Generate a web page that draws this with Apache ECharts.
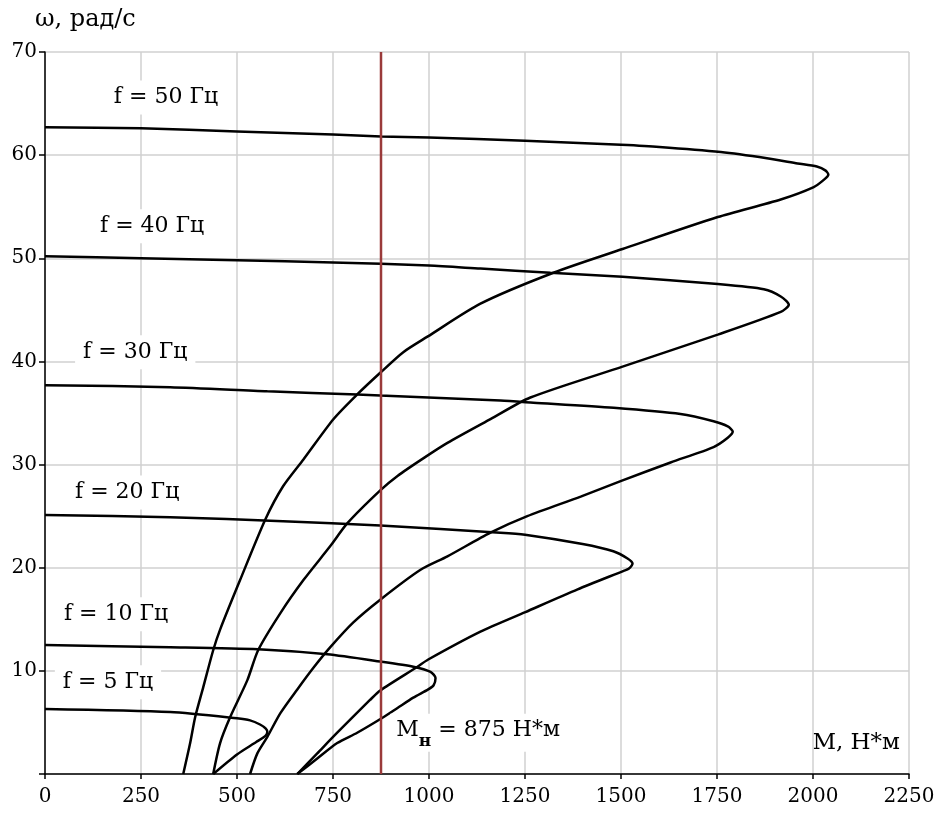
<!DOCTYPE html>
<html>
<head>
<meta charset="utf-8">
<script src="https://cdn.jsdelivr.net/npm/echarts@6/dist/echarts.min.js"></script>
<style>
html,body{margin:0;padding:0;background:#fff;}
#chart{width:949px;height:819px;}
</style>
</head>
<body>
<div id="chart"></div>
<script>
// ---- data: mechanical characteristics  [M (Н*м), ω (рад/с)] ----
const curve50 = [[0,62.7],[250,62.6],[500,62.3],[750,62.0],[875,61.8],[1000,61.7],[1250,61.4],[1500,61.0],[1600,60.8],[1760,60.3],[1880,59.7],[1960,59.2],[2010,58.9],[2033,58.5],[2040,58.1],[2028,57.6],[2002,56.9],[1916,55.7],[1752,54.0],[1504,50.9],[1324,48.6],[1134,45.6],[996,42.4],[933,40.9],[873,38.9],[813,36.8],[751,34.4],[673,30.5],[620,27.9],[574,24.7],[508,18.8],[456,14.0],[438,12.0],[412,8.4],[391,5.5],[378,3.0],[360,0]];
const curve40 = [[0,50.2],[250,50.0],[500,49.8],[750,49.6],[1000,49.3],[1134,49.0],[1316,48.6],[1504,48.2],[1752,47.5],[1872,47.0],[1916,46.3],[1937,45.5],[1916,44.8],[1752,42.6],[1504,39.5],[1264,36.5],[1160,34.4],[1048,32.1],[985,30.6],[918,28.9],[873,27.5],[787,24.3],[743,22.1],[673,18.8],[613,15.6],[555,12.0],[527,9.1],[482,5.5],[456,3.0],[438,0]];
const curve30 = [[0,37.7],[326,37.5],[579,37.1],[813,36.8],[873,36.7],[1186,36.2],[1272,36.0],[1481,35.5],[1655,34.9],[1741,34.2],[1778,33.7],[1791,33.2],[1778,32.6],[1741,31.7],[1629,30.2],[1499,28.4],[1395,26.9],[1256,25.0],[1160,23.4],[1048,21.1],[978,19.8],[873,16.9],[803,14.7],[743,12.3],[699,10.3],[657,8.2],[613,5.9],[579,3.6],[553,2.0],[534,0]];
const curve20 = [[0,25.1],[326,24.9],[620,24.5],[873,24.1],[1186,23.4],[1250,23.2],[1400,22.3],[1480,21.6],[1517,20.9],[1530,20.4],[1520,19.9],[1507,19.7],[1387,17.9],[1251,15.7],[1134,13.8],[998,11.1],[970,10.4],[873,8.1],[847,7.2],[761,4.0],[709,2.0],[657,0]];
const curve10 = [[0,12.5],[326,12.3],[555,12.1],[735,11.6],[873,10.9],[959,10.4],[1004,9.9],[1017,9.3],[1012,8.6],[998,8.2],[959,7.4],[918,6.4],[881,5.5],[813,4.0],[761,3.0],[709,1.5],[657,0]];
const curve5 = [[0,6.3],[326,6.0],[500,5.4],[534,5.2],[560,4.8],[575,4.4],[579,4.1],[574,3.7],[550,3.1],[500,1.9],[438,0]];

const curveNames = ['f = 50 Гц','f = 40 Гц','f = 30 Гц','f = 20 Гц','f = 10 Гц','f = 5 Гц'];
const curveLabelAnchors = [[315,65.6],[279,53.1],[235,40.9],[214,27.3],[185,15.5],[164,8.9]];

const ratedTorque = 875;
const ratedLabelAnchor = [1128,4.0];
const xTickValues = [0,250,500,750,1000,1250,1500,1750,2000,2250];
const yTickValues = [10,20,30,40,50,60,70];
const xName = 'M, Н*м';
const yName = 'ω, рад/с';

// ---- chart ----
const chart = echarts.init(document.getElementById('chart'), null, {renderer:'canvas'});
const FONT = 'DejaVu Serif';
const curves = [curve50, curve40, curve30, curve20, curve10, curve5];

const lineSeries = curves.map((c, i) => ({
  type: 'line',
  name: curveNames[i],
  data: c,
  symbol: 'none',
  smooth: 0.25,
  silent: true,
  z: 3,
  lineStyle: {color: '#000', width: 2.5}
}));

const option = {
  animation: false,
  backgroundColor: '#fff',
  grid: {left: 45, right: 40, top: 52, bottom: 45, containLabel: false},
  xAxis: {
    type: 'value', min: 0, max: 2250, interval: 250,
    axisLine: {show: true, onZero: false, lineStyle: {color: '#000', width: 1.5}},
    axisTick: {show: true, length: 5, lineStyle: {color: '#000', width: 1.5}},
    axisLabel: {color: '#000', fontFamily: FONT, fontSize: 20, margin: 13,
      formatter: v => xTickValues.indexOf(v) >= 0 ? String(v) : ''},
    splitLine: {show: true, lineStyle: {color: '#d0d0d0', width: 1.5}}
  },
  yAxis: {
    type: 'value', min: 0, max: 70, interval: 10,
    axisLine: {show: true, onZero: false, lineStyle: {color: '#000', width: 1.5}},
    axisTick: {show: true, length: 6, lineStyle: {color: '#000', width: 1.5}},
    axisLabel: {color: '#000', fontFamily: FONT, fontSize: 20, margin: 8,
      formatter: v => yTickValues.indexOf(v) >= 0 ? String(v) : ''},
    splitLine: {show: true, lineStyle: {color: '#d0d0d0', width: 1.5}}
  },
  graphic: [
    {type: 'text', left: 35, top: 8, silent: true,
     style: {text: yName, font: '24px "DejaVu Serif"', fill: '#000'}},
    {type: 'text', right: 49, top: 732, silent: true,
     style: {text: xName, font: '23px "DejaVu Serif"', fill: '#000'}}
  ],
  series: [
    ...lineSeries,
    {
      type: 'line', name: 'Mн',
      data: [[ratedTorque, 0], [ratedTorque, 70]],
      symbol: 'none', silent: true, z: 4,
      lineStyle: {color: '#9a3a3a', width: 2.5}
    },
    {
      type: 'scatter', name: 'labels', silent: true, z: 10,
      symbolSize: 0, itemStyle: {color: '#fff', opacity: 1},
      data: curveLabelAnchors.map((p, i) => ({value: p, name: curveNames[i]})),
      label: {
        show: true, position: 'inside', formatter: '{b}',
        fontFamily: FONT, fontSize: 22, color: '#000', opacity: 1,
        textBorderWidth: 0,
        backgroundColor: '#fff', padding: [6, 8, 6, 8]
      }
    },
    {
      type: 'scatter', name: 'rated', silent: true, z: 10,
      symbolSize: 0, itemStyle: {color: '#fff', opacity: 1},
      data: [{value: ratedLabelAnchor, name: 'rated'}],
      label: {
        show: true, position: 'inside',
        formatter: '{a|M}{b|н}{c| = ' + ratedTorque + ' Н*м}',
        backgroundColor: '#fff', padding: [6, 6, 2, 6], textBorderWidth: 0,
        rich: {
          a: {fontFamily: FONT, fontSize: 22, color: '#000', lineHeight: 30, verticalAlign: 'top', textBorderWidth: 0},
          b: {fontFamily: FONT, fontSize: 17, fontWeight: 'bold', color: '#000', lineHeight: 16, verticalAlign: 'bottom', textBorderWidth: 0},
          c: {fontFamily: FONT, fontSize: 22, color: '#000', lineHeight: 30, verticalAlign: 'top', textBorderWidth: 0}
        }
      }
    }
  ]
};
chart.setOption(option);
</script>
</body>
</html>
